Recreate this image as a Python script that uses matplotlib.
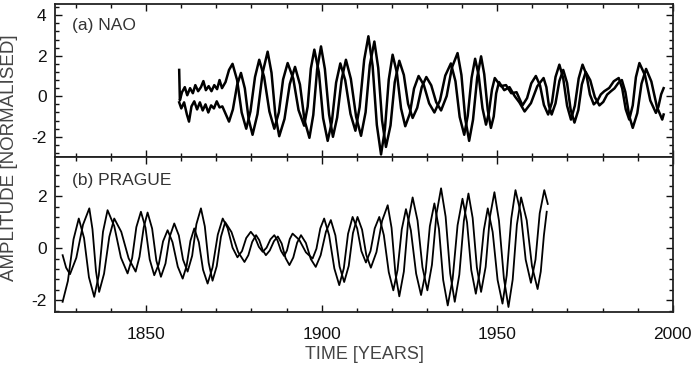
import matplotlib
matplotlib.use("Agg")
import matplotlib.pyplot as plt
from matplotlib.ticker import MultipleLocator

plt.rcParams['font.family'] = ['Liberation Sans', 'DejaVu Sans']
plt.rcParams['axes.unicode_minus'] = False

# ---------------- data ----------------
nao_a_year = [1859.4, 1859.6, 1860.2, 1861.0, 1861.7, 1862.5, 1863.3, 1864.0, 1864.8, 1865.6, 1866.3, 1867.0, 1867.8, 1868.6, 1869.4, 1870.2, 1870.9, 1871.6, 1872.6, 1873.6, 1874.6, 1875.9, 1877.2, 1878.5, 1879.7, 1881.0, 1882.2, 1883.6, 1885.1, 1886.5, 1887.8, 1889.0, 1890.3, 1891.9, 1893.4, 1895.0, 1896.0, 1896.9, 1897.9, 1899.2, 1900.4, 1901.7, 1902.9, 1904.1, 1905.3, 1906.7, 1908.2, 1909.6, 1910.8, 1912.1, 1913.3, 1914.5, 1915.7, 1916.9, 1918.0, 1919.1, 1920.2, 1921.4, 1922.6, 1923.8, 1925.1, 1926.3, 1927.6, 1929.1, 1930.6, 1932.1, 1933.7, 1935.2, 1936.8, 1938.1, 1939.3, 1940.6, 1941.6, 1942.7, 1943.7, 1944.7, 1945.8, 1946.8, 1947.6, 1948.5, 1949.3, 1951.0, 1952.5, 1954.0, 1955.5, 1957.2, 1958.5, 1959.7, 1961.0, 1962.2, 1963.3, 1964.5, 1965.6, 1966.6, 1967.7, 1968.8, 1969.9, 1971.0, 1972.1, 1973.2, 1974.3, 1975.4, 1976.4, 1977.5, 1978.5, 1979.5, 1980.5, 1981.9, 1983.2, 1984.6, 1985.6, 1986.6, 1987.6, 1988.6, 1989.5, 1990.5, 1992.1, 1993.6, 1995.2, 1995.9, 1996.7, 1997.4]
nao_a_val = [1.30, -0.20, 0.20, 0.45, 0.05, 0.40, 0.15, 0.55, 0.25, 0.45, 0.75, 0.30, 0.50, 0.25, 0.55, 0.35, 0.80, 0.40, 0.70, 1.30, 1.60, 0.80, -0.80, -1.60, -0.75, 0.95, 1.80, 0.95, -0.75, -1.60, -0.79, 0.83, 1.64, 0.87, -0.68, -1.45, -0.51, 1.36, 2.30, 1.18, -1.08, -2.20, -1.25, 0.67, 1.62, 0.79, -0.87, -1.70, -0.54, 1.80, 2.96, 1.50, -1.41, -2.87, -1.64, 0.82, 2.05, 1.17, -0.60, -1.48, -0.86, 0.38, 1.00, 0.55, -0.35, -0.80, -0.20, 1.02, 1.62, 0.74, -1.02, -1.90, -0.96, 0.91, 1.85, 1.04, -0.59, -1.40, -0.83, 0.33, 0.90, 0.50, 0.55, 0.15, 0.20, -0.45, -0.09, 0.64, 1.00, 0.53, -0.43, -0.90, -0.29, 0.95, 1.56, 0.88, -0.47, -1.15, -0.47, 0.88, 1.56, 1.07, 0.09, -0.40, -0.24, 0.09, 0.25, 0.41, 0.74, 0.90, 0.39, -0.64, -1.15, -0.45, 0.94, 1.64, 1.03, -0.21, -0.82, -0.52, 0.10, 0.40]

nao_b_year = [1859.4, 1860.0, 1860.8, 1861.6, 1862.2, 1862.9, 1863.7, 1864.5, 1865.3, 1866.1, 1866.9, 1867.7, 1868.5, 1869.3, 1870.1, 1870.9, 1871.7, 1873.6, 1874.7, 1875.9, 1877.0, 1878.1, 1879.2, 1880.3, 1881.7, 1883.2, 1884.6, 1885.7, 1886.8, 1887.9, 1889.4, 1890.9, 1892.4, 1893.8, 1895.1, 1896.5, 1897.6, 1898.7, 1899.8, 1900.9, 1902.1, 1903.2, 1904.4, 1905.7, 1906.9, 1908.3, 1909.8, 1911.2, 1912.5, 1913.7, 1915.0, 1916.1, 1917.2, 1918.3, 1919.6, 1920.8, 1922.1, 1923.4, 1924.6, 1925.9, 1927.2, 1928.5, 1929.8, 1931.2, 1932.6, 1934.0, 1935.6, 1937.1, 1938.7, 1939.8, 1940.9, 1942.0, 1943.1, 1944.3, 1945.4, 1946.3, 1947.3, 1948.2, 1949.0, 1949.7, 1950.5, 1952.0, 1953.5, 1955.0, 1956.3, 1957.8, 1959.6, 1961.4, 1963.2, 1964.0, 1964.7, 1965.5, 1966.6, 1967.7, 1968.8, 1969.9, 1970.9, 1972.0, 1973.1, 1974.1, 1975.2, 1976.5, 1977.8, 1979.1, 1980.2, 1981.3, 1982.4, 1983.4, 1984.5, 1985.5, 1986.5, 1987.6, 1988.6, 1989.9, 1991.1, 1992.4, 1993.9, 1995.5, 1997.0, 1997.4]
nao_b_val = [-0.30, -0.60, -0.30, -0.90, -1.25, -0.50, -0.25, -0.65, -0.30, -0.70, -0.40, -0.80, -0.45, -0.60, -0.25, -0.55, -0.50, -1.25, -0.65, 0.55, 1.15, 0.39, -1.14, -1.90, -0.88, 1.18, 2.20, 1.16, -0.93, -1.97, -1.12, 0.60, 1.45, 0.58, -1.18, -2.05, -0.92, 1.33, 2.46, 1.35, -0.89, -2.00, -1.05, 0.85, 1.80, 0.86, -1.01, -1.95, -0.79, 1.54, 2.70, 1.40, -1.20, -2.50, -1.44, 0.69, 1.75, 1.05, -0.37, -1.07, -0.57, 0.45, 0.95, 0.54, -0.29, -0.70, 0.01, 1.42, 2.13, 1.05, -1.12, -2.20, -1.16, 0.93, 1.97, 1.09, -0.68, -1.56, -1.00, 0.14, 0.70, 0.30, 0.45, 0.00, -0.30, -0.75, -0.34, 0.49, 0.90, 0.45, -0.45, -0.90, -0.35, 0.75, 1.30, 0.65, -0.65, -1.30, -0.68, 0.58, 1.20, 0.79, -0.04, -0.45, -0.28, 0.08, 0.25, 0.39, 0.66, 0.80, 0.21, -0.97, -1.56, -0.83, 0.62, 1.35, 0.73, -0.53, -1.15, -0.90]

prague_a_year = [1826.2, 1827.7, 1829.3, 1830.8, 1832.3, 1833.7, 1835.2, 1836.5, 1837.7, 1839.0, 1840.9, 1842.8, 1844.7, 1846.0, 1847.2, 1848.5, 1849.8, 1851.0, 1852.3, 1853.6, 1854.8, 1856.1, 1857.5, 1859.0, 1860.4, 1861.5, 1862.6, 1863.7, 1865.0, 1866.2, 1867.5, 1868.9, 1870.4, 1871.8, 1873.2, 1874.6, 1876.0, 1877.3, 1878.5, 1879.8, 1880.9, 1882.1, 1883.2, 1884.3, 1885.4, 1886.5, 1887.4, 1888.4, 1889.3, 1890.1, 1890.9, 1891.7, 1893.6, 1895.5, 1897.4, 1898.5, 1899.6, 1900.7, 1902.1, 1903.6, 1905.0, 1906.3, 1907.5, 1908.8, 1910.1, 1911.3, 1912.6, 1913.9, 1915.1, 1916.4, 1917.7, 1919.1, 1920.4, 1921.6, 1922.8, 1924.0, 1925.4, 1926.9, 1928.3, 1929.6, 1930.8, 1932.1, 1933.4, 1934.6, 1935.9, 1937.3, 1938.7, 1940.1, 1941.4, 1942.6, 1943.9, 1945.0, 1946.2, 1947.3, 1948.7, 1950.1, 1951.5, 1952.7, 1954.0, 1955.2, 1956.7, 1958.1, 1959.6, 1960.9, 1962.1, 1963.4, 1964.4]
prague_a_val = [-2.06, -1.26, 0.34, 1.14, 0.39, -1.12, -1.87, -1.04, 0.63, 1.46, 0.85, -0.36, -0.97, -0.38, 0.81, 1.40, 0.79, -0.43, -1.04, -0.61, 0.26, 0.69, 0.23, -0.71, -1.17, -0.69, 0.28, 0.76, 0.23, -0.83, -1.36, -0.74, 0.52, 1.14, 0.77, 0.02, -0.35, -0.11, 0.39, 0.63, 0.44, 0.05, -0.14, 0.02, 0.34, 0.50, 0.30, -0.10, -0.30, -0.09, 0.35, 0.56, 0.32, -0.16, -0.40, -0.02, 0.76, 1.14, 0.50, -0.78, -1.42, -0.77, 0.55, 1.20, 0.76, -0.11, -0.55, -0.11, 0.76, 1.20, 0.50, -0.92, -1.62, -0.84, 0.72, 1.50, 0.68, -0.98, -1.80, -0.92, 0.84, 1.72, 0.74, -1.22, -2.20, -1.18, 0.88, 1.90, 0.99, -0.84, -1.75, -0.93, 0.71, 1.53, 0.62, -1.22, -2.13, -1.04, 1.14, 2.23, 1.34, -0.44, -1.33, -0.44, 1.34, 2.23, 1.70]

prague_b_year = [1826.2, 1827.2, 1828.3, 1830.1, 1832.0, 1833.8, 1834.7, 1835.7, 1836.6, 1838.0, 1839.5, 1840.9, 1842.9, 1845.0, 1847.0, 1848.1, 1849.3, 1850.4, 1851.7, 1852.9, 1854.2, 1855.5, 1856.7, 1858.0, 1859.3, 1860.5, 1861.8, 1863.1, 1864.3, 1865.6, 1866.7, 1867.8, 1868.9, 1870.1, 1871.3, 1872.5, 1874.3, 1876.2, 1878.0, 1879.1, 1880.2, 1881.3, 1882.2, 1883.2, 1884.1, 1885.2, 1886.4, 1887.5, 1888.6, 1889.7, 1890.8, 1891.9, 1893.0, 1894.1, 1895.5, 1896.9, 1898.3, 1899.7, 1901.2, 1902.6, 1903.9, 1905.1, 1906.4, 1907.7, 1908.9, 1910.2, 1911.5, 1912.7, 1914.0, 1915.6, 1917.2, 1918.8, 1919.9, 1921.0, 1922.1, 1923.4, 1924.6, 1925.9, 1927.3, 1928.7, 1930.1, 1931.4, 1932.7, 1934.0, 1935.3, 1936.6, 1937.9, 1939.2, 1940.5, 1941.8, 1943.0, 1944.2, 1945.4, 1946.7, 1947.9, 1949.2, 1950.5, 1951.9, 1953.2, 1954.4, 1955.6, 1956.8, 1958.4, 1959.9, 1961.5, 1962.4, 1963.3, 1964.1]
prague_b_val = [-0.27, -0.75, -1.00, -0.37, 0.90, 1.53, 0.73, -0.88, -1.68, -0.98, 0.44, 1.14, 0.63, -0.39, -0.90, -0.33, 0.80, 1.37, 0.75, -0.48, -1.10, -0.59, 0.44, 0.95, 0.49, -0.44, -0.90, -0.29, 0.92, 1.53, 0.84, -0.56, -1.25, -0.69, 0.44, 1.00, 0.62, -0.15, -0.53, -0.27, 0.24, 0.50, 0.31, -0.08, -0.27, -0.09, 0.27, 0.45, 0.18, -0.38, -0.65, -0.36, 0.21, 0.50, 0.20, -0.42, -0.72, -0.27, 0.63, 1.08, 0.49, -0.71, -1.30, -0.68, 0.58, 1.20, 0.71, -0.26, -0.75, -0.15, 1.05, 1.65, 0.78, -0.98, -1.85, -0.90, 1.00, 1.95, 1.06, -0.73, -1.62, -0.64, 1.32, 2.30, 1.21, -0.97, -2.06, -1.02, 1.06, 2.10, 1.16, -0.74, -1.68, -0.72, 1.19, 2.15, 1.05, -1.16, -2.26, -1.21, 0.90, 1.95, 1.07, -0.69, -1.57, -0.90, 0.50, 1.40]

panel_labels = ["(a) NAO", "(b) PRAGUE"]
x_ticks = [1850, 1900, 1950, 2000]
top_yticks = [-2, 0, 2, 4]
bot_yticks = [-2, 0, 2]

# ---------------- figure ----------------
fig = plt.figure(figsize=(6.95, 3.67), dpi=100)
ax1 = fig.add_axes([0.079, 0.572, 0.889, 0.417])
ax2 = fig.add_axes([0.079, 0.150, 0.889, 0.422])

ax1.plot(nao_a_year, nao_a_val, color='black', lw=1.8, solid_joinstyle='round')
ax1.plot(nao_b_year, nao_b_val, color='black', lw=1.8, solid_joinstyle='round')
ax2.plot(prague_a_year, prague_a_val, color='black', lw=1.3, solid_joinstyle='round')
ax2.plot(prague_b_year, prague_b_val, color='black', lw=1.3, solid_joinstyle='round')

ax1.set_ylim(-3, 4.55)
ax2.set_ylim(-2.45, 3.5)
ax1.set_yticks(top_yticks)
ax2.set_yticks(bot_yticks)

for ax in (ax1, ax2):
    ax.set_xlim(1824, 2000)
    ax.set_xticks(x_ticks)
    ax.xaxis.set_minor_locator(MultipleLocator(10))
    ax.yaxis.set_minor_locator(MultipleLocator(0.4))
    ax.tick_params(which='both', direction='in', top=True, right=True,
                   labelsize=12.5, colors='#111111', width=1.0)
    ax.tick_params(which='major', length=5)
    ax.tick_params(which='minor', length=3)
    ax.tick_params(axis='x', which='major', pad=11)
    ax.tick_params(axis='y', which='major', pad=6)
    for s in ax.spines.values():
        s.set_linewidth(1.3)
        s.set_color('#222222')

ax1.tick_params(labelbottom=False)

ax1.text(0.028, 0.86, panel_labels[0], transform=ax1.transAxes,
         fontsize=12.5, color='#333333', va='center', ha='left')
ax2.text(0.028, 0.85, panel_labels[1], transform=ax2.transAxes,
         fontsize=12.5, color='#333333', va='center', ha='left')

fig.text(0.013, 0.57, "AMPLITUDE [NORMALISED]", rotation=90,
         ha='center', va='center', fontsize=13.5, color='#444444')
fig.text(0.525, 0.033, "TIME [YEARS]", ha='center', va='center',
         fontsize=13, color='#444444')

fig.savefig("out.png", dpi=100)
